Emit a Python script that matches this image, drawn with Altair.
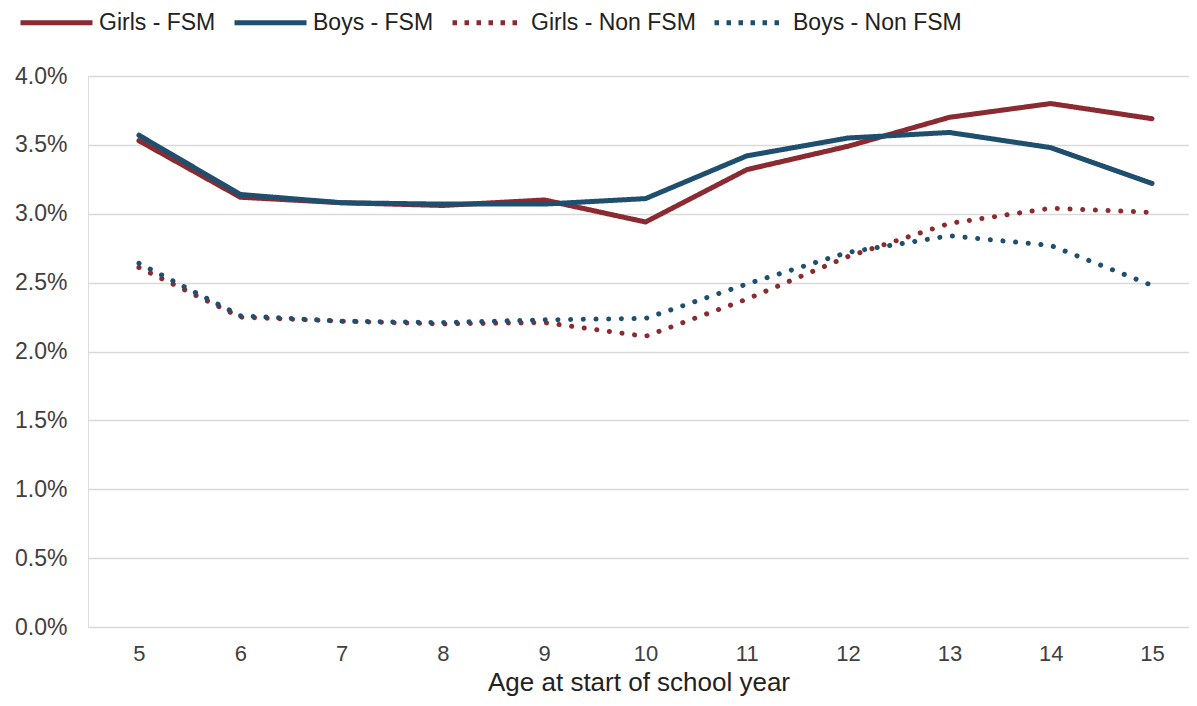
import altair as alt
import pandas as pd

ages = [5, 6, 7, 8, 9, 10, 11, 12, 13, 14, 15]
series_names = ["Girls - FSM", "Boys - FSM", "Girls - Non FSM", "Boys - Non FSM"]
girls_fsm = [3.53, 3.12, 3.08, 3.06, 3.10, 2.94, 3.32, 3.49, 3.70, 3.80, 3.69]
boys_fsm = [3.57, 3.14, 3.08, 3.07, 3.07, 3.11, 3.42, 3.55, 3.59, 3.48, 3.22]
girls_non_fsm = [2.61, 2.25, 2.22, 2.20, 2.21, 2.11, 2.38, 2.69, 2.93, 3.04, 3.01]
boys_non_fsm = [2.64, 2.26, 2.22, 2.21, 2.23, 2.24, 2.49, 2.72, 2.84, 2.77, 2.48]
colors = ["#8B2A30", "#1E4F6E", "#8B2A30", "#1E4F6E"]
line_dashes = [[1, 0], [1, 0], [0.1, 12.6], [0.1, 12.6]]
legend_dashes = [[1, 0], [1, 0], [4.5, 7.5], [4.5, 7.5]]

rows = []
for name, vals in zip(series_names, [girls_fsm, boys_fsm, girls_non_fsm, boys_non_fsm]):
    for a, v in zip(ages, vals):
        rows.append({"age": a, "value": v / 100.0, "series": name})
df = pd.DataFrame(rows)

font = "Liberation Sans"
text_color = "#404040"

x_enc = alt.X(
    "age:Q",
    scale=alt.Scale(domain=[4.497, 15.365], nice=False, zero=False),
    axis=alt.Axis(
        values=ages,
        format="d",
        title="Age at start of school year",
        grid=False,
        domain=False,
        ticks=False,
        labelFontSize=22,
        labelFont=font,
        labelColor=text_color,
        labelPadding=16,
        titleFontSize=26,
        titleFont=font,
        titleFontWeight="normal",
        titleColor="#222222",
        titlePadding=5,
    ),
)
y_enc = alt.Y(
    "value:Q",
    scale=alt.Scale(domain=[0, 0.04], nice=False),
    axis=alt.Axis(
        values=[0, 0.005, 0.01, 0.015, 0.02, 0.025, 0.03, 0.035, 0.04],
        format=".1%",
        title=None,
        domain=False,
        ticks=False,
        gridColor="#d9d9d9",
        gridWidth=1.5,
        labelFontSize=23,
        labelFont=font,
        labelColor=text_color,
        labelPadding=21,
    ),
)

legend = alt.Legend(
    title=None,
    orient="none",
    direction="horizontal",
    columns=4,
    legendX=-70,
    legendY=-92,
    symbolType="stroke",
    symbolSize=5184,
    symbolStrokeWidth=5,
    symbolOpacity=1,
    labelFontSize=23,
    labelFont=font,
    labelColor="#222222",
    labelLimit=400,
    labelOffset=4,
    columnPadding=8,
    padding=0,
)

base = alt.Chart(df)

lines = base.mark_line(strokeWidth=5, strokeCap="round", strokeJoin="round").encode(
    x=x_enc,
    y=y_enc,
    color=alt.Color("series:N", scale=alt.Scale(domain=series_names, range=colors), legend=None),
    strokeDash=alt.StrokeDash("series:N", scale=alt.Scale(domain=series_names, range=line_dashes), legend=None),
)

legend_layer = base.mark_line(strokeWidth=5, opacity=0).encode(
    x=alt.X("age:Q"),
    y=alt.Y("value:Q"),
    color=alt.Color("series:N", scale=alt.Scale(domain=series_names, range=colors), legend=legend),
    strokeDash=alt.StrokeDash("series:N", scale=alt.Scale(domain=series_names, range=legend_dashes), legend=legend),
)

chart = (
    alt.layer(lines, legend_layer)
    .resolve_scale(color="independent", strokeDash="independent")
    .properties(
        width=1101,
        height=551,
        autosize=alt.AutoSizeParams(type="none"),
        padding={"left": 80, "top": 68, "right": 0, "bottom": 71},
    )
    .configure_view(stroke=None)
    .configure(background="white")
)

chart.save("out.html", embed_options={"renderer": "svg", "actions": False})
